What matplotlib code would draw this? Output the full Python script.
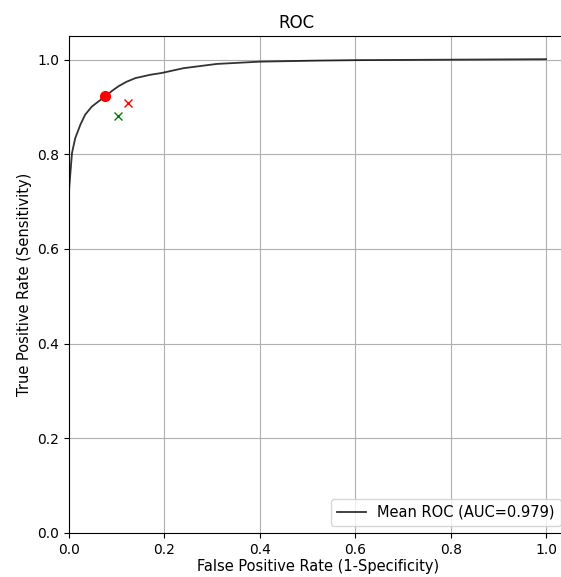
# ROC curve with operating points

import matplotlib
matplotlib.use('Agg')
import matplotlib.pyplot as plt

# mean ROC curve
fpr = [0.0, 0.0, 0.0006, 0.0063, 0.013, 0.024, 0.034, 0.048, 0.062, 0.076, 0.09, 0.104,
       0.12, 0.139, 0.17, 0.195, 0.24, 0.31, 0.40, 0.52, 0.6, 0.8, 1.0]
tpr = [0.0, 0.72, 0.732, 0.803, 0.834, 0.863, 0.884, 0.901, 0.912, 0.922, 0.934, 0.944,
       0.953, 0.961, 0.968, 0.972, 0.982, 0.991, 0.9958, 0.998, 0.999, 1.0, 1.001]
auc = 0.979

# operating points
best_pt = (0.076, 0.924)
red_x = (0.123, 0.908)
green_x = (0.103, 0.882)

fig = plt.figure(figsize=(5.61, 5.77), dpi=100)
ax = fig.add_axes([69/561, 44/577, 499/561, 497/577])

ax.plot(fpr, tpr, color='k', alpha=0.8, lw=1.3, label='Mean ROC (AUC=%.3f)' % auc)
ax.plot(best_pt[0], best_pt[1], 'o', color='red', markersize=7)
ax.plot(red_x[0], red_x[1], 'x', color='red', markersize=6)
ax.plot(green_x[0], green_x[1], 'x', color='green', markersize=6)

ax.set_xlim(0, 1.046)
ax.set_ylim(0, 1.05)
ax.set_title('ROC', x=0.456)
ax.set_xlabel('False Positive Rate (1-Specificity)', fontsize=10.5, labelpad=1.5)
ax.set_ylabel('True Positive Rate (Sensitivity)', fontsize=10.5)
ax.tick_params(labelsize=10)
ax.grid(True)
ax.legend(loc='lower right', fontsize=10.5)

fig.savefig('out.png', dpi=100)
